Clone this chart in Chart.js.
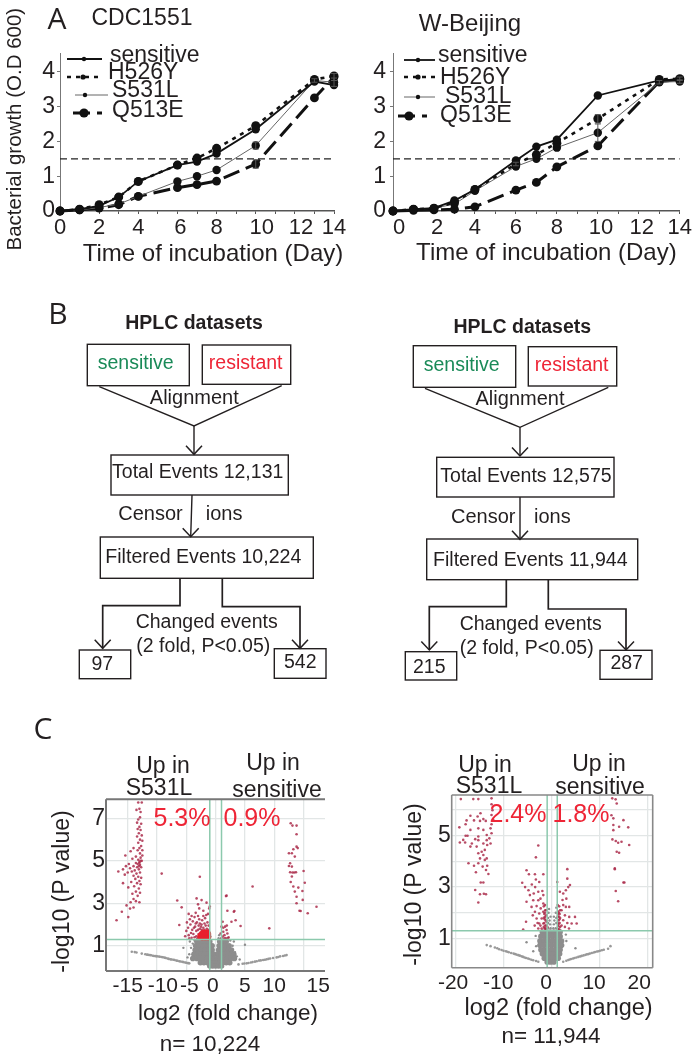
<!DOCTYPE html>
<html><head><meta charset="utf-8">
<script src="https://cdn.jsdelivr.net/npm/chart.js@4"></script>
<style>
html,body{margin:0;padding:0;background:#fff}
#page{position:relative;width:693px;height:1058px;overflow:hidden;background:#fff}
canvas{position:absolute}
svg{position:absolute;left:0;top:0}
.t{position:absolute;transform:translate(-50%,-50%);white-space:nowrap;line-height:1;font-family:'Liberation Sans',Arial,sans-serif;color:#231f20}
</style></head><body><div id="page">
<canvas id="a1" width="350" height="272" style="left:0;top:0"></canvas>
<canvas id="a2" width="343" height="272" style="left:350px;top:0"></canvas>
<canvas id="c1" width="310" height="278" style="left:40px;top:780px"></canvas>
<canvas id="c2" width="343" height="278" style="left:350px;top:780px"></canvas>
<svg id="flow" width="693" height="1058"></svg>
</div>
<script>
// ---------- Panel A data ----------
const daysA = [0,1,2,3,4,6,7,8,10,13,14];
const seriesNames = ['sensitive','H526Y','S531L','Q513E'];
const cdcSensitive = [0,.05,.15,.4,.85,1.32,1.42,1.65,2.35,3.72,3.62];
const cdcH526Y     = [0,.05,.18,.4,.85,1.32,1.52,1.8,2.45,3.78,3.88];
const cdcS531L     = [0,.03,.1,.2,.42,.85,1.0,1.18,1.88,3.75,3.7];
const cdcQ513E     = [0,.03,.08,.18,.42,.67,.76,.86,1.35,3.25,3.85];
const wbSensitive  = [0,.05,.08,.3,.62,1.45,1.85,2.05,3.32,3.75,3.78];
const wbH526Y      = [0,.05,.08,.25,.62,1.35,1.62,1.95,2.65,3.78,3.8];
const wbS531L      = [0,.05,.08,.2,.58,1.28,1.5,1.82,2.25,3.7,3.72];
const wbQ513E      = [0,.02,.03,.05,.12,.6,.82,1.27,1.87,3.72,3.78];
const cdcErrS531L  = [0,0,0,0,0,0,0,0,.1,.05,.12];
const cdcErrQ513E  = [0,0,0,0,0,0,0,0,.12,0,.1];
const wbErrS531L   = [0,0,0,0,0,0,0,0,.25,.05,.05];
const wbErrH526Y   = [0,0,0,0,0,.05,0,0,.12,0,.05];
const thresholdOD = 1.5;
const xTicksA = [0,1,2,3,4,5,6,7,8,9,10,11,12,13,14];
const yTicksA = [0,.5,1,1.5,2,2.5,3,3.5,4];
const cdcXLabels = {0:'0',2:'2',4:'4',6:' 6',8:'8',10:'  10',12:'  12',14:'14'};
const wbXLabels  = {0:'  0',2:' 2',4:'4',6:'6',8:'8',10:' 10',12:' 12',14:'14'};

// ---------- Panel C data: x = log2 fold change, y = -log10 P ----------
const volcTicksY = [1,2,3,4,5,6,7];
const volcTicksY2 = [1,2,3,4,5,6];
const volc1TicksX = [-15,-10,-5,0,5,10,15];
const volc2TicksX = [-20,-10,0,10,20];
const volc1LabelsX = {'-15':'-15','-10':'  -10','-5':' -5','0':'0 ','5':'5','10':'10','15':'     15'};
const volc2LabelsX = {'-20':'-20 ','-10':'-10  ','0':'0  ','10':'10  ','20':'20   '};
const volc1LabelsY = {1:'1',3:'3',5:'5',7:'7'};
const volc2LabelsY = {1:'1',3:'3',5:'5'};
const volc1Left = [[-13.2,7.75],[-12.6,7.75],[-13.0,7.45],[-13.5,7.4],[-12.8,7.3],[-12.9,7.05],[-13.2,6.95],[-13.4,6.8],[-12.7,6.75],[-13.0,6.6],[-13.3,6.5],[-12.8,6.45],[-13.1,6.3],[-12.6,6.2],[-13.4,6.15],[-12.9,6.0],[-12.5,5.95],[-13.2,5.85],[-12.7,5.7],[-13.0,5.6],[-14.0,5.6],[-12.5,5.5],[-13.3,5.5],[-14.5,5.45],[-12.9,5.35],[-12.5,5.25],[-15.4,5.25],[-13.6,5.2],[-12.8,5.15],[-14.2,5.1],[-13.2,5.05],[-12.6,5.0],[-13.0,4.95],[-13.6,4.9],[-14.8,4.85],[-12.9,4.8],[-15.3,4.75],[-14.0,4.75],[-13.4,4.7],[-12.7,4.7],[-14.6,4.65],[-15.8,4.6],[-13.1,4.6],[-13.8,4.55],[-14.3,4.5],[-16.6,4.5],[-15.0,4.45],[-12.9,4.45],[-13.5,4.4],[-15.5,4.35],[-14.0,4.3],[-13.2,4.25],[-12.7,4.2],[-13.7,4.15],[-13.0,4.05],[-14.4,4.0],[-13.4,3.95],[-12.8,3.9],[-15.8,3.95],[-13.9,3.8],[-14.9,3.75],[-13.1,3.7],[-13.6,3.55],[-12.9,3.5],[-14.2,3.45],[-13.3,3.35],[-14.0,3.2],[-13.6,3.1],[-13.0,3.05],[-14.5,3.05],[-15.2,2.9],[-14.0,2.8],[-14.6,2.75],[-16.0,2.6],[-14.9,2.35],[-16.9,2.2],[-13.0,4.9],[-12.8,5.0],[-13.1,4.75],[-13.3,4.85]];
const volc1Center = [[-4.6,2.5],[-4.4,2.25],[-4.1,2.4],[-3.9,2.15],[-3.6,2.35],[-4.3,2.0],[-3.2,2.1],[-2.8,2.25],[-2.3,2.2],[-1.8,2.3],[-1.4,2.1],[-3.5,1.9],[-2.9,1.95],[-2.4,2.0],[-1.9,2.05],[-1.2,1.95],[-4.0,1.75],[-3.3,1.7],[-2.7,1.8],[-2.1,1.85],[-1.5,1.8],[-4.6,1.5],[-3.8,1.55],[-3.3,1.45],[-5.2,1.45],[-2.9,1.55],[-2.6,1.6],[-3.25,3.23],[-2.4,3.15],[-1.55,3.03],[-6.55,3.13],[-5.8,2.81],[-3,2.95],[-1.1,2.76],[-2.1,2.65],[-2.8,2.76],[-6.2,1.98],[1.87,3.36],[2,2.65],[3.1,2.6],[2.7,2.13],[3.4,2.2],[4.25,1.93],[1.2,2.13],[1,1.9],[1.6,1.9],[1.3,1.66],[2,1.58],[1.75,1.35],[1.2,1.43],[.85,1.58],[1.87,1.74],[6.3,3.79],[9.15,1.82],[1.76,3.34],[3.2,2.64],[2.2,1.4],[1.5,1.5],[-9.2,4.4],[-2.7,4.25],[-1.0,2.85],[-4.9,2.1],[-4.7,1.85],[-4.2,1.6],[-3.7,1.85],[-3.4,2.05],[-3.0,1.75],[-2.5,1.9],[-2.2,1.7],[-3.6,1.4],[-4.1,1.38],[-3.1,1.35],[-2.8,1.4],[-2.7,2.05],[-2.1,2.4],[-1.6,2.45],[-1.3,2.5],[-3.4,2.55],[-2.4,1.75],[-1.9,1.75],[-1.2,1.75],[-5.0,1.7],[-3.0,2.4],[-1.7,1.95],[-4.5,1.35],[.95,1.35],[1.5,1.35],[1.9,1.95],[2.1,1.35],[1.3,1.85]];
const volc1Right = [[12.8,6.77],[13.1,6.66],[13.8,6.66],[13.8,6.25],[13.8,5.67],[14,5.6],[13.25,5.55],[12.5,5.36],[13,5.36],[13.5,5.2],[12.7,4.89],[12.5,4.76],[13,4.73],[15,4.52],[12.7,4.46],[13.1,4.45],[13.4,4.45],[13.7,4.46],[13,4.26],[12.8,4],[15.2,3.97],[13.25,3.79],[14.1,3.74],[14.8,3.58],[13.5,3.55],[13.8,3.31],[14.85,3.16],[13.8,3],[17.2,2.84],[14.3,2.65],[14.5,2.64],[15.7,2.53]];
const volc1Core = [[-2.3,1.55],[-1.8,1.55],[-1.3,1.55],[-2.3,1.4],[-1.8,1.4],[-1.3,1.4],[-2.0,1.62],[-1.5,1.62],[-2.6,1.45]];
const volc1Grains = [[-4.2,.9],[-4.5,.6],[-3.9,1.1],[-3.6,1.25],[-4.8,.45],[2.9,1],[3.3,.7],[3.6,.5],[2.5,1.25],[4.1,.35],[-5.5,.9],[5,1.05],[-4.4,1.2],[3.1,1.2],[-.9,1.45],[.6,1.5],[.5,1.35]];
const volc1WingL = [[-14.3,.72],[-13.8,.7],[-13.5,.68],[-12.6,.63],[-12,.6],[-11.7,.58],[-11.5,.57],[-11.2,.56],[-11,.55],[-10.7,.53],[-10.5,.52],[-10.2,.51],[-10,.5],[-9.7,.49],[-9.5,.48],[-9.2,.47],[-9,.46],[-8.7,.44],[-8.5,.42],[-8.2,.4],[-8,.38],[-7.7,.36],[-7.5,.35],[-7.2,.34],[-7,.33],[-6.7,.3],[-6.5,.29],[-6.2,.27],[-6,.26],[-5.7,.24],[-5.5,.23],[-5.2,.21],[-5,.2],[-4.7,.18],[-4.5,.17]];
const volc1WingR = [[12.1,.56],[11.8,.54],[11.5,.52],[11,.5],[10.7,.47],[10.4,.45],[9.8,.42],[9.3,.4],[9,.38],[8.7,.36],[8.4,.34],[8.1,.33],[7.7,.31],[7.4,.3],[7,.27],[6.7,.25],[6.3,.23],[6,.21],[5.6,.19],[5.3,.17],[4.9,.16],[4.6,.15],[3.9,.12]];
const volc1CloudRows = [[1.2,[-3.2,-2.6,-2,-1.5,-1,.7,1.2,1.8]],[1,[-3.4,-2.8,-2.2,-1.6,-1,-.6,.6,1.1,1.7,2.3]],[.8,[-3.5,-3,-2.4,-1.8,-1.2,-.6,.5,1,1.6,2.2,2.7]],[.6,[-3.7,-3.1,-2.5,-1.9,-1.3,-.7,-.3,.4,.9,1.5,2.1,2.7,3.1]],[.4,[-3.9,-3.2,-2.6,-2,-1.4,-.8,-.3,.3,.8,1.4,2,2.6,3.2]],[.2,[-2.6,-2,-1.4,-.8,-.3,.2,.7,1.2,1.8,2.4]],[.05,[-1,-.5,0,.5,1]]];
const volc2Left = [[-19,6.43],[-16.4,6.43],[-15.35,6.43],[-12.6,6.46],[-12.6,6.23],[-12.4,6],[-12.6,5.81],[-12.2,5.6],[-12.6,5.45],[-12.8,5.29],[-12.6,5.1],[-13.05,4.9],[-12.8,4.7],[-13.5,4.64],[-14.9,5.88],[-15.5,5.75],[-14.3,5.65],[-13.8,5.58],[-15,5.58],[-17,5.78],[-17.8,5.6],[-16.25,5.6],[-18,5.45],[-19.3,5.33],[-17,5.23],[-15.35,5.29],[-14.3,5.23],[-13.6,5.03],[-18,5],[-17.6,5],[-15.35,4.97],[-16,4.87],[-18.5,4.84],[-18.1,4.74],[-19.2,4.74],[-16.7,4.7],[-15.35,4.83],[-13.6,4.83],[-17,4.58],[-15.7,4.58],[-14.3,4.7],[-14,4.45],[-14.65,4.38],[-15.35,4.32],[-14.3,4.25],[-15,4.12],[-13.6,4.12],[-14,4.06],[-15.35,3.93],[-17.4,3.93],[-16.25,3.83],[-14.45,3.8],[-13.5,3.83],[-13.75,3.67],[-13.25,3.51],[-15.85,3.58],[-14.85,3.18],[-14.3,3.18],[-16,2.89],[-15,2.72],[-14.2,2.74],[-13.75,2.72],[-15.35,2.4],[-2.85,4.62],[-3.35,4.16]];
const volc2Center = [[-5.3,3.66],[-4.8,3.5],[-3.55,3.5],[-1.8,3.5],[-6.2,3.17],[-5.6,3],[-4.2,3.1],[-3.35,3.3],[-2.65,3.2],[-4.9,2.88],[-3.5,3],[-4.6,2.69],[-2.85,2.82],[-1.8,2.69],[-3.9,2.49],[-5.3,2.43],[-2.85,2.49],[-1.8,2.36],[-4.25,2.23],[-3.2,2.26],[-2.35,2.17],[-1.45,2.3],[-3.55,2.04],[-2.65,1.97],[-1.8,2.04],[-1.25,2.1],[-3.2,1.78],[-2.15,1.78],[-1.45,1.84],[-5.4,1.65],[-2.65,1.58],[-1.8,1.58],[-1.1,1.65],[-6,1.35],[-2.85,1.39],[-2.15,1.39],[-1.45,1.39],[-.95,1.45],[3.2,3.7],[1.1,3.2],[3.4,3],[2.9,2.88],[3.75,3.08],[3.2,3.33],[1.65,2.82],[2.35,2.75],[3.6,2.23],[2.35,2.3],[2.9,2.23],[2,2.1],[2.7,1.9],[4.8,1.84],[3.6,1.84],[2.35,1.71],[4.1,1.58],[5.15,1.58],[2.7,1.45],[2,1.5],[3.55,1.39],[-3.8,2.75],[-4.0,1.9],[-2.4,2.55],[-2.0,2.85],[-3.0,1.6],[-2.4,1.5],[-3.6,1.5],[3,2.55],[2.2,2.5],[3.2,1.6]];
const volc2Dense = [[-1.7,2.25],[-1.4,2.1],[-1.6,1.95],[-1.2,1.9],[-1.7,1.8],[-1.3,1.7],[-1.6,1.6],[-1.2,1.5],[-1.7,1.45],[-1.3,1.38],[1.2,2.3],[1.5,2.25],[1.7,2.1],[1.3,2.05],[1.6,1.95],[1.2,1.85],[1.7,1.8],[1.4,1.7],[1.2,1.6],[1.6,1.6],[1.3,1.48],[1.7,1.45],[1.5,1.36],[1.2,1.38],[1.45,2.0],[1.45,1.85],[1.25,1.95],[1.55,1.75],[1.35,1.55],[-1.5,2.0],[-1.5,1.75],[-1.4,1.5],[-1.5,1.4]];
const volc2Right = [[12.57,6.46],[13.27,6.42],[13.5,6.26],[12.4,5.8],[12.8,5.68],[14.9,5.61],[12.8,5.42],[14,5.35],[15.9,5.33],[12.8,5.22],[12.6,4.86],[13.3,4.8],[13.8,4.73],[14.5,4.77],[16.1,4.64],[13.5,4.38],[14,4.34],[13.1,3.73],[13.1,3.7],[14.9,3.18],[15.1,3.18],[13.3,2.85],[13.8,2.45]];
const volc2Grains = [[-.8,1.4],[-.3,1.4],[.3,1.4],[.8,1.4],[-.8,1.6],[-.4,1.55],[.4,1.55],[.9,1.6],[-.8,1.8],[-.5,1.7],[.5,1.7],[.9,1.8],[-.7,2],[.8,2],[-.6,2.15],[.9,2.2],[-.3,1.85],[.4,1.85],[-5.3,.85],[-3.9,.5],[4.9,.62],[-3.4,1.1],[3,.9],[2.9,1.15],[-3.3,.7]];
const volc2WingL = [[-13.6,.74],[-12.8,.7],[-11.9,.65],[-11.4,.62],[-11,.58],[-10.5,.55],[-10.1,.52],[-9.6,.5],[-9.3,.48],[-9,.46],[-8.5,.43],[-8,.41],[-7.7,.39],[-7.4,.37],[-7,.35],[-6.7,.33],[-6.3,.3],[-6,.28],[-5.7,.26],[-5.4,.24],[-5,.22],[-4.7,.2],[-4.3,.17],[-3.9,.15],[-3.3,.12],[-2.85,.09]];
const volc2WingR = [[2.35,.09],[3,.13],[3.4,.16],[3.7,.18],[4,.2],[4.4,.22],[4.7,.24],[5.1,.26],[5.5,.28],[5.9,.3],[6.2,.32],[6.6,.34],[7,.36],[7.3,.38],[7.6,.39],[7.9,.41],[8.3,.43],[8.7,.45],[9,.47],[9.4,.49],[9.7,.5],[10,.52],[10.4,.54],[10.8,.56],[11.7,.6],[12.2,.7]];
const volc2CloudRows = [[1.25,[-2,-1.2,-.4,.4,1.2,1.7]],[1.08,[-2.3,-1.5,-.7,.1,.9,1.7]],[.9,[-2.5,-1.7,-.9,-.1,.7,1.5,2]],[.73,[-2.5,-1.7,-.9,-.1,.7,1.5,2]],[.56,[-2.3,-1.5,-.7,.1,.9,1.7]],[.4,[-2,-1.2,-.4,.4,1.2,1.6]],[.23,[-1.6,-.8,0,.8,1.3]],[.08,[-1,-.3,.4]]];
const pThreshold = 1.3;
const volc1FoldLines = [-1,1];
const volc2FoldLines = [-1,1.1];

// ---------- Layout ----------
const FONT = "'Liberation Sans', Arial, sans-serif";
const INK = '#231f20';
const page = document.getElementById('page');
const seriesStyle = [
 {color:'#111',width:1.8,dash:[],r:4.2,keyR:2.2},
 {color:'#111',width:2.6,dash:[4,5],r:4.5,keyR:2.6},
 {color:'#666',width:1,dash:[],r:4.2,keyR:2.2},
 {color:'#111',width:3,dash:[17,7],r:4.4,keyR:4.6}
];
const keyA1 = [
 {x0:67,x1:102,y:59,mx:84,tx:110,ty:56},
 {x0:67,x1:101,y:77,mx:83,tx:108,ty:73},
 {x0:75,x1:108,y:95,mx:85,tx:112,ty:91},
 {x0:73,x1:102,y:113,mx:84,tx:112,ty:111}];
const keyA2 = [
 {x0:404,x1:435,y:60,mx:418,tx:438,ty:56},
 {x0:404,x1:435,y:77,mx:418,tx:440,ty:78},
 {x0:404,x1:435,y:97,mx:418,tx:445,ty:97},
 {x0:398,x1:427,y:116,mx:409,tx:440,ty:116}];

function keyPlugin(rows, originX, originY){
 return {id:'keyPlugin',afterDraw(chart){
  const c=chart.ctx; c.save();
  rows.forEach((k,i)=>{
   const s=seriesStyle[i];
   c.strokeStyle=s.color;c.lineWidth=s.width;c.setLineDash(s.dash);
   c.beginPath();c.moveTo(k.x0-originX,k.y-originY);c.lineTo(k.x1-originX,k.y-originY);c.stroke();
   c.setLineDash([]);c.fillStyle='#111';
   c.beginPath();c.arc(k.mx-originX,k.y-originY,s.keyR,0,7);c.fill();
   c.fillStyle=INK;c.font='23px '+FONT;c.textAlign='left';c.textBaseline='middle';
   c.fillText(seriesNames[i],k.tx-originX,k.ty-originY);
  });
  c.restore();
 }};
}
const errorPlugin={id:'errorPlugin',afterDatasetsDraw(chart){
 const c=chart.ctx;c.save();c.strokeStyle='#555';c.lineWidth=1;
 chart.data.datasets.forEach(d=>{ if(!d.errors) return;
  d.data.forEach((p,i)=>{const e=d.errors[i]; if(!e) return;
   const x=chart.scales.x.getPixelForValue(p.x),a=chart.scales.y.getPixelForValue(p.y-e),b=chart.scales.y.getPixelForValue(p.y+e);
   c.beginPath();c.moveTo(x,a);c.lineTo(x,b);c.moveTo(x-3,a);c.lineTo(x+3,a);c.moveTo(x-3,b);c.lineTo(x+3,b);c.stroke();
  });
 });c.restore();
}};
function framePlugin(color,width,sides){return {id:'framePlugin',afterDraw(chart){
 const {left,right,top,bottom}=chart.chartArea,c=chart.ctx;c.save();c.strokeStyle=color;c.lineWidth=width;c.beginPath();
 if(sides.includes('t')){c.moveTo(left,top);c.lineTo(right,top);}
 if(sides.includes('b')){c.moveTo(left,bottom);c.lineTo(right,bottom);}
 if(sides.includes('l')){c.moveTo(left,top);c.lineTo(left,bottom);}
 if(sides.includes('r')){c.moveTo(right,top);c.lineTo(right,bottom);}
 c.stroke();c.restore();
}};}

function growthChart(id,vals,errs,cfg){
 const datasets = vals.map((v,i)=>({
  label:seriesNames[i],
  data:daysA.map((d,j)=>({x:d,y:v[j]})),
  errors:errs[i],
  borderColor:seriesStyle[i].color,borderWidth:seriesStyle[i].width,borderDash:seriesStyle[i].dash,
  pointRadius:seriesStyle[i].r,pointBackgroundColor:'#111',pointBorderColor:'#111',pointBorderWidth:0,
  tension:0,fill:false,clip:false
 }));
 datasets.push({label:'threshold',data:[{x:cfg.tx0,y:thresholdOD},{x:14,y:thresholdOD}],borderColor:'#222',borderWidth:1.2,borderDash:[7,4],pointRadius:0,fill:false});
 return new Chart(document.getElementById(id),{type:'line',data:{datasets},
  options:{responsive:false,animation:false,events:[],
   layout:{padding:{top:53,right:cfg.padR,left:0,bottom:0}},
   plugins:{legend:{display:false},tooltip:{enabled:false}},
   scales:{
    x:{type:'linear',min:0,max:14,
     afterBuildTicks:s=>{s.ticks=xTicksA.map(v=>({value:v}))},
     afterFit:s=>{s.height=61},
     border:{color:'#555',width:1.4},
     grid:{display:true,drawOnChartArea:false,drawTicks:true,tickLength:3,color:'#555'},
     ticks:{autoSkip:false,maxRotation:0,padding:1,color:INK,font:{family:FONT,size:22},callback:v=>cfg.xLabels[v]??''},
     title:cfg.xTitle?{display:true,text:cfg.xTitle,color:INK,font:{family:FONT,size:24},padding:{top:0,bottom:4}}:{display:false}
    },
    y:{type:'linear',min:0,max:4.54,
     afterBuildTicks:s=>{s.ticks=yTicksA.map(v=>({value:v}))},
     afterFit:s=>{s.width=cfg.yWidth},
     border:{color:'#777',width:1},
     grid:{display:true,drawOnChartArea:false,drawTicks:true,tickLength:3,color:'#777'},
     ticks:{padding:cfg.yPad,color:INK,font:{family:FONT,size:23},callback:v=>Number.isInteger(v)?String(v):''},
     title:cfg.yTitle?{display:true,text:cfg.yTitle,color:INK,font:{family:FONT,size:20.5},padding:{top:3.4,bottom:0}}:{display:false}
    }
   }},
  plugins:[errorPlugin,keyPlugin(cfg.key,cfg.ox,cfg.oy)]});
}
growthChart('a1',[cdcSensitive,cdcH526Y,cdcS531L,cdcQ513E],[null,null,cdcErrS531L,cdcErrQ513E],
 {xLabels:cdcXLabels,xTitle:null,yTitle:' Bacterial growth (O.D 600)',yWidth:60,yPad:2,padR:16,key:keyA1,ox:0,oy:0,tx0:0});
growthChart('a2',[wbSensitive,wbH526Y,wbS531L,wbQ513E],[null,wbErrH526Y,wbErrS531L,null],
 {xLabels:wbXLabels,xTitle:'   Time of incubation (Day)',yTitle:null,yWidth:43,yPad:4,padR:13,key:keyA2,ox:350,oy:0,tx0:0});

const toPts = a=>a.map(p=>({x:p[0],y:p[1]}));
const rowsToPts = rows=>rows.flatMap(r=>r[1].map(x=>({x,y:r[0]})));
function volcano(id,cfg){
 const redDot={backgroundColor:'rgba(172,45,75,.85)',pointRadius:1.3,borderWidth:0};
 const grey={backgroundColor:'#8d8d8d',borderWidth:0};
 const lines=[...cfg.foldLines.map(x=>({data:[{x,y:cfg.yMin},{x,y:cfg.yMax}]})),{data:[{x:cfg.xMin,y:pThreshold},{x:cfg.xMax,y:pThreshold}]}]
  .map(d=>({...d,showLine:true,borderColor:'#8cc9ad',borderWidth:1.5,pointRadius:0}));
 const datasets=[...lines,
  ...(cfg.core?[{data:toPts(cfg.core),backgroundColor:'#e8202c',pointRadius:3.2,borderWidth:0}]:[]),
  ...cfg.red.map(a=>({data:toPts(a),...redDot})),
  {data:toPts(cfg.grains),...grey,pointRadius:1.2},
  {data:toPts(cfg.wings),backgroundColor:'#999',pointRadius:1.3,borderWidth:0},
  {data:rowsToPts(cfg.cloud),...grey,pointRadius:cfg.cloudR}];
 return new Chart(document.getElementById(id),{type:'scatter',data:{datasets},
  options:{responsive:false,animation:false,events:[],
   layout:{padding:{top:cfg.padT,right:cfg.padR,left:0,bottom:0}},
   plugins:{legend:{display:false},tooltip:{enabled:false}},
   scales:{
    x:{type:'linear',min:cfg.xMin,max:cfg.xMax,
     afterBuildTicks:s=>{s.ticks=cfg.xTicks.map(v=>({value:v}))},
     afterFit:s=>{s.height=cfg.xH},
     border:{display:false},
     grid:{color:'#e2e6e6',lineWidth:1.3,drawTicks:false},
     ticks:{autoSkip:false,maxRotation:0,padding:3,color:INK,font:{family:FONT,size:21},callback:v=>cfg.xLabels[v]??''},
     title:{display:true,text:cfg.xTitle,align:cfg.xTitleAlign,color:INK,font:{family:FONT,size:cfg.xTitleSize},padding:{top:0,bottom:cfg.xTitlePad}}
    },
    y:{type:'linear',min:cfg.yMin,max:cfg.yMax,
     afterBuildTicks:s=>{s.ticks=cfg.yTicks.map(v=>({value:v}))},
     afterFit:s=>{s.width=cfg.yW},
     border:{display:false},
     grid:{color:'#e2e6e6',lineWidth:1.3,drawTicks:false},
     ticks:{padding:1,color:INK,font:{family:FONT,size:23},callback:v=>cfg.yLabels[v]??''},
     title:{display:true,text:cfg.yTitle,color:INK,font:{family:FONT,size:23},padding:{top:cfg.yTitlePad,bottom:0}}
    }
   }},
  plugins:[framePlugin(cfg.frameColor,cfg.frameW,cfg.sides)]});
}
volcano('c1',{xMin:-18.7,xMax:18.65,yMin:-.19,yMax:7.9,xTicks:volc1TicksX,yTicks:volcTicksY,xLabels:volc1LabelsX,yLabels:volc1LabelsY,
 foldLines:volc1FoldLines,core:volc1Core,red:[volc1Left,volc1Center,volc1Right],grains:volc1Grains,wings:[...volc1WingL,...volc1WingR],cloud:volc1CloudRows,cloudR:2.8,
 padT:19.3,padR:25,xH:87,yW:66,xTitle:'    log2 (fold change)',xTitleAlign:'center',yTitle:'-log10 (P value)  ',xTitleSize:22.5,xTitlePad:30.5,yTitlePad:9.2,frameColor:'#777',frameW:2,sides:'tbl'});
volcano('c2',{xMin:-20.9,xMax:21,yMin:-.14,yMax:6.59,xTicks:volc2TicksX,yTicks:volcTicksY2,xLabels:volc2LabelsX,yLabels:volc2LabelsY,
 foldLines:volc2FoldLines,core:null,red:[volc2Left,volc2Center,volc2Right,volc2Dense],grains:volc2Grains,wings:[...volc2WingL,...volc2WingR],cloud:volc2CloudRows,cloudR:2.8,
 padT:15,padR:40.3,xH:90.3,yW:101.7,xTitle:'log2 (fold change)',xTitleAlign:'end',yTitle:'-log10 (P value) ',xTitleSize:23.5,xTitlePad:35.5,yTitlePad:51,frameColor:'#888',frameW:1.6,sides:'tblr'});

// ---------- Text labels ----------
function text(s,x,y,size,opts={}){
 const d=document.createElement('div');d.className='t';d.textContent=s;
 d.style.left=x+'px';d.style.top=y+'px';d.style.fontSize=size+'px';
 if(opts.color)d.style.color=opts.color;
 if(opts.bold)d.style.fontWeight='700';
 if(opts.family)d.style.fontFamily=opts.family;
 page.appendChild(d);
}
const OPEN="'Open Sans',sans-serif";
text('A',57,18,30,{family:OPEN});text('B',58,313,30,{family:OPEN});text('C',43,728,30,{family:OPEN});
text('CDC1551',142,17,23);text('W-Beijing',470,23,24);
text('Time of incubation (Day)',213,253,24);
const RED='#ee2536',GREEN='#1a8a58';
text('Up in',163,765,23);text('S531L',159,787,23);text('Up in',273,762,23);text('sensitive',277,789,23);
text('5.3%',182,817,25,{color:RED});text('0.9%',252,817,25,{color:RED});
text('n= 10,224',210,1044,22.5);
text('Up in',485,764,23);text('S531L',489,785,23);text('Up in',599,763,23);text('sensitive',600,786,23);
text('2.4%',518,813,25,{color:RED});text('1.8%',581,813,25,{color:RED});
text('n= 11,944',551,1036,22.5);

// ---------- Flow diagrams ----------
const flowLeft={title:[194,323],sens:[87.3,344.3,189.3,385.7],res:[202.3,345,290.7,384.3],sensT:[135.7,363],resT:[245.7,363],
 vee:[[99.3,386.7],[194,426],[281.7,385.7]],down1:[[194,426],[194,454.3]],align:[194.3,396.7],
 total:[111,455,288.3,495],totalT:['Total Events 12,131',197.7,471.7],cen:[118.3,205.7,513],down2:[[192,495],[190.7,536.7]],
 filt:[100.3,537,313.3,578.3],filtT:['Filtered Events 10,224',203.3,557.3],
 lb:[[180,578.3],[180,605.7],[102.7,605.7],[102.7,648.3]],rb:[[222.3,578.3],[222.3,606.7],[300,606.7],[300,648.3]],
 ch:[206.7,621.7],fold:[203.3,646],bl:[79.3,650,130.7,678.7],blT:['97',102.3,664],br:[274.3,648.7,326,678.3],brT:['542',300.3,662.3]};
const flowRight={title:[522.3,327.3],sens:[413.3,345.7,515.7,387.3],res:[528.3,346.7,616.7,386],sensT:[461.7,365],resT:[571.7,365],
 vee:[[425,388.3],[520,427.3],[608.3,387.3]],down1:[[520,427.3],[520,456]],align:[520,398.3],
 total:[436.7,457.3,614,497],totalT:['Total Events 12,575',526,475.7],cen:[451,534,515.7],down2:[[520,497],[520,539.3]],
 filt:[426.7,539,637.7,579.7],filtT:['Filtered Events 11,944',530.3,560],
 lb:[[506.3,580],[506.3,606.7],[429.3,606.7],[429.3,650]],rb:[[548.3,580],[548.3,609],[626,609],[626,650]],
 ch:[530.7,624.3],fold:[526.7,648.3],bl:[405.3,651.7,456.7,680],blT:['215',429.3,666.7],br:[600,650.3,652,679.3],brT:['287',626.7,663.3]};
const svg=document.getElementById('flow');
function el(n,a){const e=document.createElementNS('http://www.w3.org/2000/svg',n);for(const k in a)e.setAttribute(k,a[k]);svg.appendChild(e);}
function box(b){el('rect',{x:b[0],y:b[1],width:b[2]-b[0],height:b[3]-b[1],fill:'none',stroke:'#231f20','stroke-width':1.4});}
function poly(p,w){el('polyline',{points:p.map(q=>q.join(',')).join(' '),fill:'none',stroke:'#231f20','stroke-width':w||1.4});}
function head(p){const [x,y]=p[p.length-1];poly([[x-8,y-8.5],[x,y],[x+8,y-8.5]],1.5);}
function leftAligned(s,x,y,size){text(s,x,y,size);page.lastChild.style.transform='translate(0,-50%)';}
[flowLeft,flowRight].forEach(f=>{
 text('HPLC datasets',f.title[0],f.title[1],19.5,{bold:true});
 box(f.sens);box(f.res);box(f.total);box(f.filt);box(f.bl);box(f.br);
 text('sensitive',f.sensT[0],f.sensT[1],19.5,{color:GREEN});text('resistant',f.resT[0],f.resT[1],19.5,{color:RED});
 poly(f.vee);poly(f.down1);head(f.down1);
 text('Alignment',f.align[0],f.align[1],20);
 text(f.totalT[0],f.totalT[1],f.totalT[2],19.5);
 leftAligned('Censor',f.cen[0],f.cen[2],20);leftAligned('ions',f.cen[1],f.cen[2],20);
 poly(f.down2);head(f.down2);
 text(f.filtT[0],f.filtT[1],f.filtT[2],19.6);
 poly(f.lb,1.7);head(f.lb);poly(f.rb,1.7);head(f.rb);
 text('Changed events',f.ch[0],f.ch[1],19.5);text('(2 fold, P<0.05)',f.fold[0],f.fold[1],19.5);
 text(f.blT[0],f.blT[1],f.blT[2],19.5);text(f.brT[0],f.brT[1],f.brT[2],19.5);
});
</script></body></html>
